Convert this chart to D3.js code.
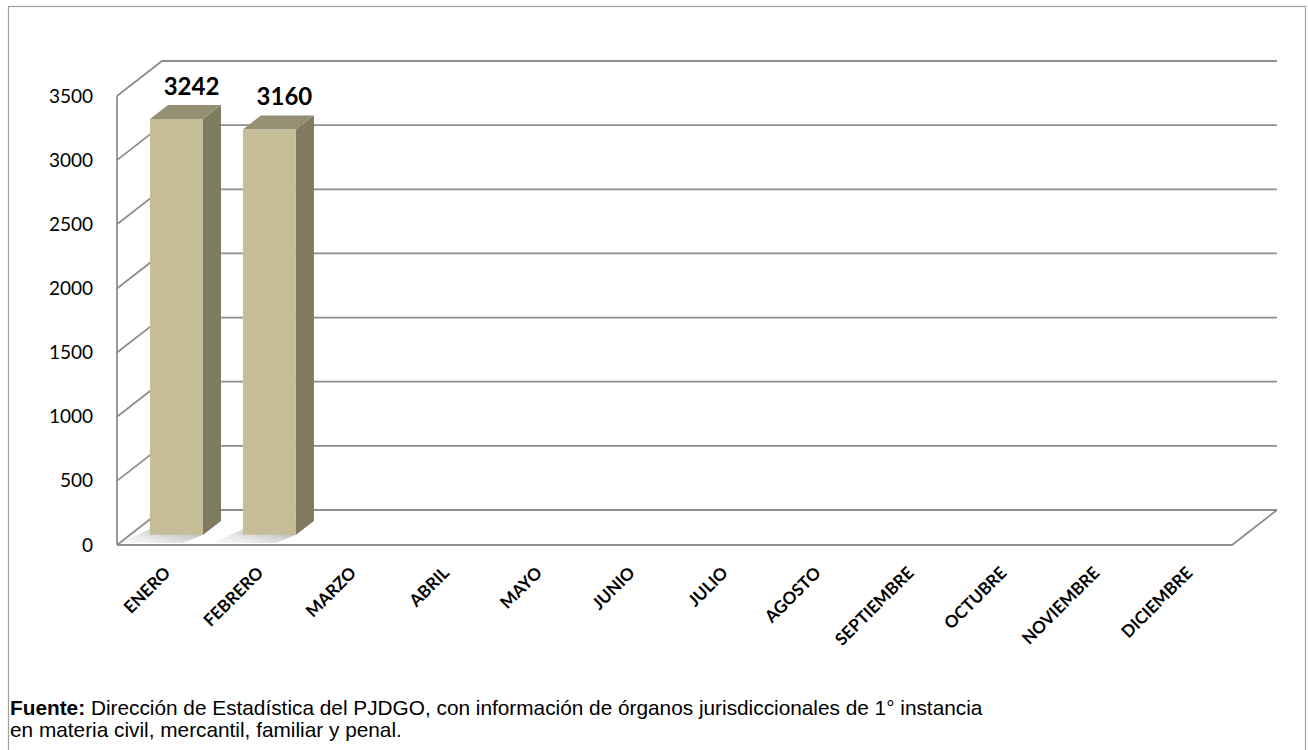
<!DOCTYPE html>
<html>
<head>
<meta charset="utf-8">
<script src="https://cdn.jsdelivr.net/npm/d3@7"></script>
<style>
  body { margin: 0; background: #fff; }
  svg { display: block; }
  .tick text { font-family: Lato, "Open Sans", sans-serif; }
</style>
</head>
<body>
<script>
// data
var months = ["ENERO", "FEBRERO", "MARZO", "ABRIL", "MAYO", "JUNIO", "JULIO",
              "AGOSTO", "SEPTIEMBRE", "OCTUBRE", "NOVIEMBRE", "DICIEMBRE"];
var values = [3242, 3160];
var yTicks = [0, 500, 1000, 1500, 2000, 2500, 3000, 3500];

var W = 1308, H = 750;
// front plane of the 3d box
var plotL = 117, plotR = 1232, plotB = 545, plotT = 96;
var depthX = 45, depthY = 35;      // offset of back wall
var z0 = 0.29, z1 = 0.69;          // depth range of bars

var x = d3.scaleBand().domain(months).range([plotL, plotR]);
var y = d3.scaleLinear().domain([0, 3500]).range([plotB, plotT]);

// project front-plane point to given depth (0 = front, 1 = back)
function P(px, py, z) { return [px + z * depthX, py - z * depthY]; }
function poly(pts) { return pts.map(function(p) { return p.join(","); }).join(" "); }

var svg = d3.select("body").append("svg")
    .attr("width", W)
    .attr("height", H);

// outer frame
svg.append("rect")
    .attr("x", 8.5).attr("y", 6.5)
    .attr("width", 1297).attr("height", 760)
    .attr("fill", "#fff")
    .attr("stroke", "#a0a0a0")
    .attr("stroke-width", 1.2);

var grid = svg.append("g")
    .attr("fill", "none")
    .attr("stroke", "#8e8e8e")
    .attr("stroke-width", 1.8);

// gridlines: left wall diagonal + back wall horizontal
yTicks.forEach(function(t) {
  var a = P(plotL, y(t), 0), b = P(plotL, y(t), 1), c = P(plotR, y(t), 1);
  grid.append("polyline").attr("points", poly([a, b, c]));
});

// left wall front edge
grid.append("line")
    .attr("x1", plotL).attr("y1", plotT)
    .attr("x2", plotL).attr("y2", plotB);

// floor
grid.append("polyline")
    .attr("points", poly([P(plotL, plotB, 0), P(plotR, plotB, 0), P(plotR, plotB, 1)]));

// floor shadows
var defs = svg.append("defs");
var sg = defs.append("linearGradient").attr("id", "shadow")
    .attr("x1", "100%").attr("y1", "0%").attr("x2", "0%").attr("y2", "100%");
sg.append("stop").attr("offset", "0%").attr("stop-color", "#707070").attr("stop-opacity", 0.95);
sg.append("stop").attr("offset", "100%").attr("stop-color", "#bdbdbd").attr("stop-opacity", 0.05);

var bw = x.bandwidth() * 0.57;
var bx = function(i) { return x(months[i]) + x.bandwidth() * 0.215; };

svg.append("g").selectAll("polygon")
    .data(values)
  .enter().append("polygon")
    .attr("points", function(d, i) {
      var x0 = bx(i), x1 = x0 + bw;
      return poly([P(x0, plotB, z1), P(x1, plotB, z1), P(x1, plotB, z0),
                   [P(x1, plotB, z0)[0] - 20, plotB - 2], [P(x0, plotB, z0)[0] - 30, plotB - 2]]);
    })
    .attr("fill", "url(#shadow)");

// bars
var bars = svg.append("g").selectAll("g")
    .data(values)
  .enter().append("g");

// side face
bars.append("polygon")
    .attr("points", function(d, i) {
      var x1 = bx(i) + bw;
      return poly([P(x1, y(d), z0), P(x1, y(d), z1), P(x1, y(0), z1), P(x1, y(0), z0)]);
    })
    .attr("fill", "#7f7b5e");

// top face
bars.append("polygon")
    .attr("points", function(d, i) {
      var x0 = bx(i), x1 = x0 + bw;
      return poly([P(x0, y(d), z0), P(x1, y(d), z0), P(x1, y(d), z1), P(x0, y(d), z1)]);
    })
    .attr("fill", "#959072");

// front face
bars.append("polygon")
    .attr("points", function(d, i) {
      var x0 = bx(i), x1 = x0 + bw;
      return poly([P(x0, y(d), z0), P(x1, y(d), z0), P(x1, y(0), z0), P(x0, y(0), z0)]);
    })
    .attr("fill", "#c4bd97");

// value labels
bars.append("text")
    .attr("x", function(d, i) { return P(bx(i) + bw / 2, 0, z0)[0] + 15; })
    .attr("y", function(d) { return P(0, y(d), z0)[1] - 24; })
    .attr("text-anchor", "middle")
    .style("font-family", "Lato, 'Open Sans', sans-serif")
    .style("font-weight", "bold")
    .style("font-size", "24px")
    .text(function(d) { return d; });

// y axis
var yAxis = d3.axisLeft(y).tickValues(yTicks).tickSize(0).tickPadding(24)
    .tickFormat(d3.format("d"));
svg.append("g")
    .attr("class", "y axis")
    .attr("transform", "translate(" + plotL + ",0)")
    .call(yAxis)
    .call(function(g) { g.select(".domain").remove(); })
    .selectAll("text")
    .style("font-size", "19px")
    .attr("fill", "#000");

// x labels
svg.append("g").selectAll("text")
    .data(months)
  .enter().append("text")
    .attr("transform", function(d) {
      return "translate(" + (x(d) + x.bandwidth() / 2 + 8) + "," + 574 + ") rotate(-45)";
    })
    .attr("text-anchor", "end")
    .style("font-family", "Lato, 'Open Sans', sans-serif")
    .style("font-weight", "bold")
    .style("font-size", "17px")
    .text(function(d) { return d; });

// source note
var note = svg.append("text")
    .style("font-family", "'Liberation Sans', Arial, sans-serif")
    .style("font-size", "20.8px");
note.append("tspan").attr("x", 10).attr("y", 715)
    .style("font-weight", "bold").text("Fuente:");
note.append("tspan")
    .text(" Dirección de Estadística del PJDGO, con información de órganos jurisdiccionales de 1° instancia");
note.append("tspan").attr("x", 10).attr("y", 737)
    .text("en materia civil, mercantil, familiar y penal.");
</script>
</body>
</html>
